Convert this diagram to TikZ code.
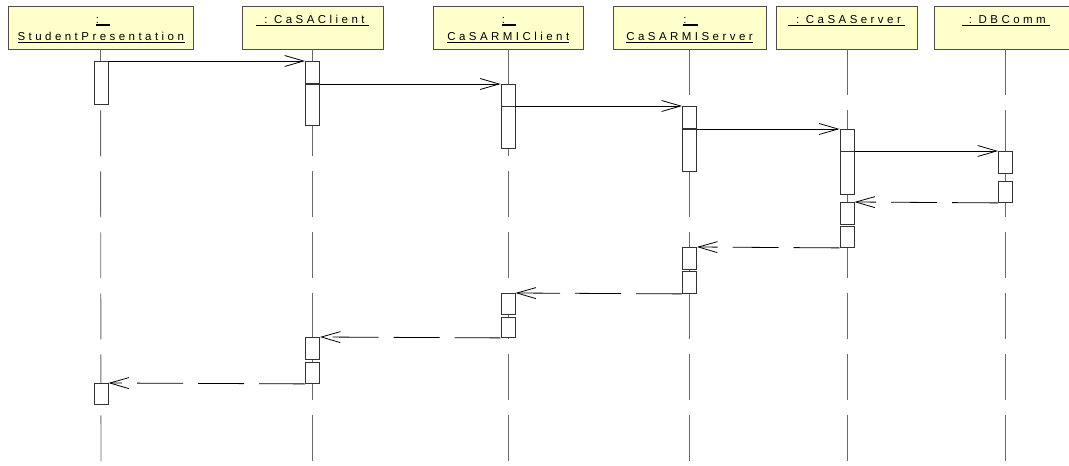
\documentclass[tikz,border=0pt]{standalone}
\usepackage{fontspec}
\newfontfamily\hdrfont{Liberation Sans}[LetterSpace=30]
\usetikzlibrary{arrows.meta}
\definecolor{hdrfill}{RGB}{255,255,204}
\definecolor{lifegray}{RGB}{105,105,105}
% underlined object name with a heavy rule
\newcommand\undl[1]{\setbox0=\hbox{#1}\rlap{\rule[-2.6pt]{\wd0}{1.3pt}}\box0}
\begin{document}
\begin{tikzpicture}[x=1pt,y=-1pt,
  hdr/.style={draw=black!70, fill=hdrfill, line width=0.9pt, inner sep=0pt, minimum height=43pt},
  lbl/.style={inner sep=0pt, anchor=base, font=\hdrfont\fontsize{11.5}{17.7}\selectfont},
  life/.style={draw=lifegray, line width=0.9pt, dash pattern=on 46pt off 15pt},
  bar/.style={draw=black!80, fill=white, line width=0.9pt, minimum width=14pt, inner sep=0pt, anchor=north},
  msg/.style={draw=black, line width=0.8pt, -{Straight Barb[length=19pt,width=11pt,line width=0.8pt]}},
  ret/.style={msg, dash pattern=on 46pt off 15pt}]
\useasboundingbox (0,0) rectangle (1069,466);

% object headers
\node[hdr, minimum width=185pt] (h1) at (100.5,27.5) {};
\node[hdr, minimum width=141pt] (h2) at (312.5,27.5) {};
\node[hdr, minimum width=150pt] (h3) at (508,27.5) {};
\node[hdr, minimum width=153pt] (h4) at (689.5,27.5) {};
\node[hdr, minimum width=141pt] (h5) at (847,27.5) {};
\node[hdr, minimum width=143pt] (h6) at (1005.5,27.5) {};

% object names
\node[lbl] (t1a) at (103,23) {\undl{:\hspace{11pt}}};
\node[lbl] (t1b) at (101.5,40.7) {\undl{StudentPresentation\hspace{1.5pt}}};
\node[lbl] (t2) at (312.5,23.3) {\undl{\hspace{8pt}:\hspace{6.6pt}CaSAClient\hspace{4pt}}};
\node[lbl] (t3a) at (509,23) {\undl{:\hspace{11pt}}};
\node[lbl] (t3b) at (508.3,40.7) {\undl{CaSARMIClient}};
\node[lbl] (t4a) at (690.5,23) {\undl{:\hspace{11pt}}};
\node[lbl] (t4b) at (689.5,40.7) {\undl{CaSARMIServer}};
\node[lbl] (t5) at (846.5,23.3) {\undl{\hspace{8pt}:\hspace{6.6pt}CaSAServer\hspace{4pt}}};
\node[lbl] (t6) at (1005.8,23.3) {\undl{\hspace{7pt}:\hspace{6.6pt}DBComm\hspace{4pt}}};

% lifeline ends
\coordinate (e1) at (101,466);
\coordinate (e2) at (312.5,466);
\coordinate (e3) at (508,466);
\coordinate (e4) at (689.5,466);
\coordinate (e5) at (847,466);
\coordinate (e6) at (1005.5,466);

\draw[life] (h1.south) -- (e1);
\draw[life] (h2.south) -- (e2);
\draw[life] (h3.south) -- (e3);
\draw[life] (h4.south) -- (e4);
\draw[life] (h5.south) -- (e5);
\draw[life] (h6.south) -- (e6);

% activation bars
\node[bar, minimum height=43pt] (sp1) at (101,61) {};
\node[bar, minimum height=22pt] (cc1) at (312.5,61) {};
\node[bar, minimum height=41pt] (cc2) at (312.5,84) {};
\node[bar, minimum height=21.5pt] (rc1) at (508,84) {};
\node[bar, minimum height=42pt] (rc2) at (508,106) {};
\node[bar, minimum height=22pt] (rs1) at (689.5,106) {};
\node[bar, minimum height=42pt] (rs2) at (689.5,129) {};
\node[bar, minimum height=21.5pt] (cs1) at (847,129) {};
\node[bar, minimum height=43pt] (cs2) at (847,151) {};
\node[bar, minimum height=22pt] (db1) at (1005.5,151) {};
\node[bar, minimum height=21pt] (db2) at (1005.5,181) {};
\node[bar, minimum height=22pt] (cs3) at (847,202) {};
\node[bar, minimum height=21pt] (cs4) at (847,226) {};
\node[bar, minimum height=22pt] (rs3) at (689.5,247) {};
\node[bar, minimum height=22pt] (rs4) at (689.5,271) {};
\node[bar, minimum height=21pt] (rc3) at (508,293) {};
\node[bar, minimum height=20pt] (rc4) at (508,317) {};
\node[bar, minimum height=22pt] (cc3) at (312.5,337) {};
\node[bar, minimum height=21pt] (cc4) at (312.5,362) {};
\node[bar, minimum height=21pt] (sp2) at (101,383) {};

% calls
\draw[msg] (sp1.north east) -- (cc1.north west);
\draw[msg] (cc2.north east) -- (rc1.north west);
\draw[msg] (rc2.north east) -- (rs1.north west);
\draw[msg] (rs2.north east) -- (cs1.north west);
\draw[msg] (cs2.north east) -- (db1.north west);

% returns
\draw[ret] (db2.south west) -- (cs3.north east);
\draw[ret] (cs4.south west) -- (rs3.north east);
\draw[ret] (rs4.south west) -- (rc3.north east);
\draw[ret] (rc4.south west) -- (cc3.north east);
\draw[ret] (cc4.south west) -- (sp2.north east);
\end{tikzpicture}
\end{document}
